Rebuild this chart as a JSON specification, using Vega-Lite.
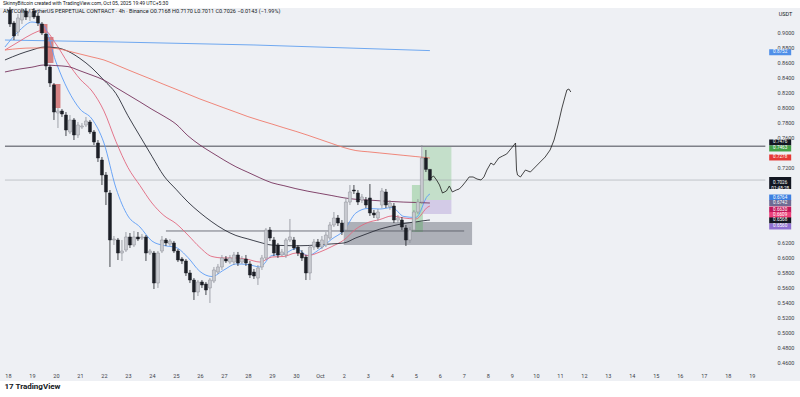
{
  "$schema": "https://vega.github.io/schema/vega-lite/v6.json",
  "width": 800,
  "height": 373,
  "autosize": {"type": "none"},
  "padding": {"left": 0, "right": 0, "top": 8, "bottom": 16},
  "background": "#ffffff",
  "config": {
    "font": "Roboto",
    "view": {"fill": "#eef0f4", "stroke": null},
    "axis": {"grid": false, "ticks": false, "domain": false, "labelColor": "#3b3e47", "labelFontSize": 5.5, "labelFont": "Roboto", "titleFont": "Roboto"}
  },
  "title": {
    "text": "SkinnyBitcoin created with TradingView.com, Oct 05, 2025 19:49 UTC+5:30",
    "subtitle": "ANTCOIN / TetherUS PERPETUAL CONTRACT · 4h · Binance   O0.7168  H0.7170  L0.7011  C0.7026  −0.0143 (−1.99%)",
    "anchor": "start", "frame": "group", "orient": "top", "offset": -8, "dx": 3,
    "fontSize": 5, "fontWeight": "normal", "color": "#131722",
    "subtitleFontSize": 5.5, "subtitleColor": "#131722", "subtitlePadding": 3
  },
  "encoding": {
    "x": {
      "field": "t", "type": "temporal",
      "scale": {"type": "utc", "nice": false, "domain": [
        {"year": 2025, "month": 9, "date": 17, "hours": 21, "minutes": 2, "utc": true},
        {"year": 2025, "month": 10, "date": 20, "hours": 19, "minutes": 9, "utc": true}]},
      "axis": {
        "orient": "bottom", "offset": -11, "labelPadding": 3,
        "tickCount": {"interval": "day", "step": 1},
        "labelExpr": "utcmonth(datum.value) == 9 && utcdate(datum.value) >= 20 ? '' : (utcdate(datum.value) == 1 ? 'Oct' : '' + utcdate(datum.value))",
        "labelOverlap": false, "labelFlush": false, "labelBound": false,
        "title": "17 TradingView", "titleAnchor": "start", "titleAlign": "left", "titleBaseline": "middle",
        "titleX": 4, "titleY": 16, "titleFontSize": 8, "titleFontWeight": "bold", "titleColor": "#131722"
      }
    },
    "y": {
      "field": "p", "type": "quantitative",
      "scale": {"domain": [0.43467, 0.932], "zero": false, "nice": false},
      "axis": {
        "orient": "right", "offset": -30, "labelPadding": 7, "format": ".4f",
        "values": [0.46, 0.48, 0.5, 0.52, 0.54, 0.56, 0.58, 0.6, 0.62, 0.72, 0.76, 0.78, 0.8, 0.82, 0.84, 0.86, 0.88, 0.9],
        "labelOverlap": false, "labelFlush": false,
        "title": "USDT", "titleAngle": 0, "titleX": 15, "titleY": 5, "titleAlign": "center", "titleBaseline": "middle",
        "titleFontSize": 5.5, "titleFontWeight": "normal", "titleColor": "#131722"
      }
    }
  },
  "layer": [
    {
      "data": {"values": [
        {"kind": "zone", "t": "2025-10-01T23:50Z", "t2": "2025-10-07T08:10Z", "p": 0.6467, "p2": 0.6160},
        {"kind": "target", "t": "2025-10-05T07:00Z", "t2": "2025-10-06T11:30Z", "p": 0.7476, "p2": 0.6760},
        {"kind": "stop", "t": "2025-10-05T07:00Z", "t2": "2025-10-06T11:30Z", "p": 0.6760, "p2": 0.6573},
        {"kind": "red", "t": "2025-09-19T07:30Z", "t2": "2025-09-19T15:30Z", "p": 0.9107, "p2": 0.8987},
        {"kind": "red", "t": "2025-09-19T12:30Z", "t2": "2025-09-19T21:30Z", "p": 0.8933, "p2": 0.8587},
        {"kind": "red", "t": "2025-09-19T20:30Z", "t2": "2025-09-20T04:30Z", "p": 0.8307, "p2": 0.7987},
        {"kind": "green", "t": "2025-10-04T20:00Z", "t2": "2025-10-05T07:00Z", "p": 0.6960, "p2": 0.6333}
      ], "format": {"parse": {"t": "date", "t2": "date"}}},
      "mark": {"type": "rect"},
      "encoding": {
        "x2": {"field": "t2"},
        "y2": {"field": "p2"},
        "fill": {"field": "kind", "type": "nominal", "legend": null,
          "scale": {"domain": ["zone", "target", "stop", "red", "green"],
            "range": ["rgba(120,123,134,0.55)", "rgba(76,175,80,0.26)", "rgba(126,87,194,0.24)", "rgba(200,70,70,0.65)", "rgba(76,175,80,0.32)"]}}
      }
    },
    {
      "data": {"values": [{"t": "2025-09-17T21:00Z", "t2": "2025-10-19T13:30Z", "p": 0.7476}], "format": {"parse": {"t": "date", "t2": "date"}}},
      "mark": {"type": "rule", "color": "#7e8088", "strokeWidth": 1.6},
      "encoding": {"x2": {"field": "t2"}}
    },
    {
      "data": {"values": [{"t": "2025-09-17T21:00Z", "t2": "2025-10-19T13:30Z", "p": 0.7026}], "format": {"parse": {"t": "date", "t2": "date"}}},
      "mark": {"type": "rule", "color": "#a3a6ad", "strokeWidth": 0.6},
      "encoding": {"x2": {"field": "t2"}}
    },
    {
      "data": {"values": [{"t": "2025-09-24T14:00Z", "t2": "2025-10-07T00:15Z", "p": 0.6347}], "format": {"parse": {"t": "date", "t2": "date"}}},
      "mark": {"type": "rule", "color": "#50535e", "strokeWidth": 0.8},
      "encoding": {"x2": {"field": "t2"}}
    },
    {
      "data": {"values": [
        {"t": "2025-09-17T21:00Z", "p": 0.8893},
        {"t": "2025-09-22T12:00Z", "p": 0.8867},
        {"t": "2025-09-28T06:00Z", "p": 0.8827},
        {"t": "2025-10-05T14:00Z", "p": 0.8752}
      ], "format": {"parse": {"t": "date"}}},
      "mark": {"type": "line", "color": "#6fa8f0", "strokeWidth": 1},
      "encoding": {}
    },
    {
      "data": {"values": [
        {"t": "2025-09-17T21:00Z", "ema9": 0.8800, "ema21": 0.8760, "ema50": 0.8627, "ema100": 0.8467, "ema200": 0.8760},
        {"t": "2025-09-18T12:00Z", "ema9": 0.9027, "ema21": 0.8880, "ema50": 0.8708, "ema100": 0.8507, "ema200": 0.8780},
        {"t": "2025-09-19T00:00Z", "ema9": 0.9133, "ema21": 0.8973, "ema50": 0.8760, "ema100": 0.8531, "ema200": 0.8787},
        {"t": "2025-09-19T12:00Z", "ema9": 0.9080, "ema21": 0.9027, "ema50": 0.8799, "ema100": 0.8560, "ema200": 0.8787},
        {"t": "2025-09-20T00:00Z", "ema9": 0.8600, "ema21": 0.8840, "ema50": 0.8791, "ema100": 0.8552, "ema200": 0.8780},
        {"t": "2025-09-20T12:00Z", "ema9": 0.8227, "ema21": 0.8587, "ema50": 0.8743, "ema100": 0.8539, "ema200": 0.8747},
        {"t": "2025-09-21T00:00Z", "ema9": 0.7973, "ema21": 0.8373, "ema50": 0.8647, "ema100": 0.8483, "ema200": 0.8707},
        {"t": "2025-09-21T12:00Z", "ema9": 0.7840, "ema21": 0.8213, "ema50": 0.8520, "ema100": 0.8424, "ema200": 0.8667},
        {"t": "2025-09-22T00:00Z", "ema9": 0.7520, "ema21": 0.7947, "ema50": 0.8356, "ema100": 0.8359, "ema200": 0.8627},
        {"t": "2025-09-22T12:00Z", "ema9": 0.6920, "ema21": 0.7540, "ema50": 0.8180, "ema100": 0.8260, "ema200": 0.8563},
        {"t": "2025-09-23T00:00Z", "ema9": 0.6547, "ema21": 0.7193, "ema50": 0.7883, "ema100": 0.8164, "ema200": 0.8496},
        {"t": "2025-09-23T12:00Z", "ema9": 0.6400, "ema21": 0.6953, "ema50": 0.7612, "ema100": 0.8068, "ema200": 0.8431},
        {"t": "2025-09-24T00:00Z", "ema9": 0.6213, "ema21": 0.6720, "ema50": 0.7343, "ema100": 0.7969, "ema200": 0.8367},
        {"t": "2025-09-24T12:00Z", "ema9": 0.6153, "ema21": 0.6553, "ema50": 0.7080, "ema100": 0.7877, "ema200": 0.8301},
        {"t": "2025-09-25T00:00Z", "ema9": 0.6127, "ema21": 0.6447, "ema50": 0.6904, "ema100": 0.7773, "ema200": 0.8237},
        {"t": "2025-09-25T12:00Z", "ema9": 0.5993, "ema21": 0.6293, "ema50": 0.6733, "ema100": 0.7616, "ema200": 0.8172},
        {"t": "2025-09-26T00:00Z", "ema9": 0.5807, "ema21": 0.6127, "ema50": 0.6591, "ema100": 0.7493, "ema200": 0.8107},
        {"t": "2025-09-26T12:00Z", "ema9": 0.5740, "ema21": 0.6007, "ema50": 0.6468, "ema100": 0.7391, "ema200": 0.8048},
        {"t": "2025-09-27T00:00Z", "ema9": 0.5827, "ema21": 0.5987, "ema50": 0.6364, "ema100": 0.7293, "ema200": 0.7989},
        {"t": "2025-09-27T12:00Z", "ema9": 0.5907, "ema21": 0.5987, "ema50": 0.6287, "ema100": 0.7203, "ema200": 0.7931},
        {"t": "2025-09-28T00:00Z", "ema9": 0.5900, "ema21": 0.5967, "ema50": 0.6241, "ema100": 0.7129, "ema200": 0.7872},
        {"t": "2025-09-28T12:00Z", "ema9": 0.5867, "ema21": 0.5933, "ema50": 0.6195, "ema100": 0.7055, "ema200": 0.7821},
        {"t": "2025-09-29T00:00Z", "ema9": 0.6020, "ema21": 0.6000, "ema50": 0.6159, "ema100": 0.6989, "ema200": 0.7773},
        {"t": "2025-09-29T12:00Z", "ema9": 0.6040, "ema21": 0.6007, "ema50": 0.6153, "ema100": 0.6951, "ema200": 0.7723},
        {"t": "2025-09-30T00:00Z", "ema9": 0.6113, "ema21": 0.6053, "ema50": 0.6149, "ema100": 0.6911, "ema200": 0.7675},
        {"t": "2025-09-30T12:00Z", "ema9": 0.6020, "ema21": 0.6020, "ema50": 0.6153, "ema100": 0.6877, "ema200": 0.7623},
        {"t": "2025-10-01T00:00Z", "ema9": 0.6107, "ema21": 0.6067, "ema50": 0.6163, "ema100": 0.6848, "ema200": 0.7568},
        {"t": "2025-10-01T12:00Z", "ema9": 0.6240, "ema21": 0.6140, "ema50": 0.6175, "ema100": 0.6819, "ema200": 0.7513},
        {"t": "2025-10-02T00:00Z", "ema9": 0.6353, "ema21": 0.6227, "ema50": 0.6187, "ema100": 0.6789, "ema200": 0.7459},
        {"t": "2025-10-02T12:00Z", "ema9": 0.6587, "ema21": 0.6373, "ema50": 0.6255, "ema100": 0.6769, "ema200": 0.7419},
        {"t": "2025-10-03T00:00Z", "ema9": 0.6647, "ema21": 0.6460, "ema50": 0.6315, "ema100": 0.6760, "ema200": 0.7403},
        {"t": "2025-10-03T12:00Z", "ema9": 0.6640, "ema21": 0.6500, "ema50": 0.6372, "ema100": 0.6749, "ema200": 0.7387},
        {"t": "2025-10-04T00:00Z", "ema9": 0.6660, "ema21": 0.6547, "ema50": 0.6413, "ema100": 0.6740, "ema200": 0.7371},
        {"t": "2025-10-04T12:00Z", "ema9": 0.6540, "ema21": 0.6520, "ema50": 0.6447, "ema100": 0.6732, "ema200": 0.7355},
        {"t": "2025-10-05T00:00Z", "ema9": 0.6527, "ema21": 0.6507, "ema50": 0.6468, "ema100": 0.6727, "ema200": 0.7339},
        {"t": "2025-10-05T12:00Z", "ema9": 0.6820, "ema21": 0.6667, "ema50": 0.6491, "ema100": 0.6721, "ema200": 0.7323},
        {"t": "2025-10-05T14:00Z", "ema9": 0.6840, "ema21": 0.6680, "ema50": 0.6493, "ema100": 0.6720, "ema200": 0.7320}
      ], "format": {"parse": {"t": "date"}}},
      "transform": [{"fold": ["ema9", "ema21", "ema50", "ema100", "ema200"], "as": ["series", "p"]}],
      "mark": {"type": "line", "interpolate": "monotone"},
      "encoding": {
        "stroke": {"field": "series", "type": "nominal", "legend": null,
          "scale": {"domain": ["ema9", "ema21", "ema50", "ema100", "ema200"], "range": ["#5b9cf6", "#e2687f", "#2a2e39", "#76325c", "#ef7b6c"]}},
        "strokeWidth": {"field": "series", "type": "nominal", "legend": null,
          "scale": {"domain": ["ema9", "ema21", "ema50", "ema100", "ema200"], "range": [0.9, 0.9, 1, 1.5, 1]}}
      }
    },
    {
      "data": {"values": [
        {"t": "2025-09-18T00:00Z", "o": 0.9293, "h": 0.9333, "l": 0.9067, "c": 0.9107},
        {"t": "2025-09-18T04:00Z", "o": 0.9120, "h": 0.9147, "l": 0.8893, "c": 0.8947},
        {"t": "2025-09-18T08:00Z", "o": 0.9000, "h": 0.9240, "l": 0.8947, "c": 0.9187},
        {"t": "2025-09-18T12:00Z", "o": 0.9160, "h": 0.9320, "l": 0.9107, "c": 0.9280},
        {"t": "2025-09-18T16:00Z", "o": 0.9280, "h": 0.9320, "l": 0.9160, "c": 0.9200},
        {"t": "2025-09-18T20:00Z", "o": 0.9200, "h": 0.9307, "l": 0.9147, "c": 0.9267},
        {"t": "2025-09-19T00:00Z", "o": 0.9280, "h": 0.9320, "l": 0.9173, "c": 0.9200},
        {"t": "2025-09-19T04:00Z", "o": 0.9213, "h": 0.9253, "l": 0.9080, "c": 0.9120},
        {"t": "2025-09-19T08:00Z", "o": 0.9107, "h": 0.9133, "l": 0.8960, "c": 0.8987},
        {"t": "2025-09-19T12:00Z", "o": 0.8973, "h": 0.8987, "l": 0.8493, "c": 0.8547},
        {"t": "2025-09-19T16:00Z", "o": 0.8533, "h": 0.8560, "l": 0.8267, "c": 0.8320},
        {"t": "2025-09-19T20:00Z", "o": 0.8293, "h": 0.8320, "l": 0.7827, "c": 0.7933},
        {"t": "2025-09-20T00:00Z", "o": 0.7920, "h": 0.7987, "l": 0.7720, "c": 0.7947},
        {"t": "2025-09-20T04:00Z", "o": 0.7947, "h": 0.7973, "l": 0.7867, "c": 0.7907},
        {"t": "2025-09-20T08:00Z", "o": 0.7893, "h": 0.7933, "l": 0.7613, "c": 0.7693},
        {"t": "2025-09-20T12:00Z", "o": 0.7667, "h": 0.7893, "l": 0.7640, "c": 0.7827},
        {"t": "2025-09-20T16:00Z", "o": 0.7827, "h": 0.7853, "l": 0.7560, "c": 0.7627},
        {"t": "2025-09-20T20:00Z", "o": 0.7627, "h": 0.7800, "l": 0.7587, "c": 0.7760},
        {"t": "2025-09-21T00:00Z", "o": 0.7733, "h": 0.7787, "l": 0.7707, "c": 0.7747},
        {"t": "2025-09-21T04:00Z", "o": 0.7760, "h": 0.7867, "l": 0.7733, "c": 0.7813},
        {"t": "2025-09-21T08:00Z", "o": 0.7800, "h": 0.7827, "l": 0.7640, "c": 0.7667},
        {"t": "2025-09-21T12:00Z", "o": 0.7667, "h": 0.7693, "l": 0.7493, "c": 0.7533},
        {"t": "2025-09-21T16:00Z", "o": 0.7520, "h": 0.7560, "l": 0.7267, "c": 0.7320},
        {"t": "2025-09-21T20:00Z", "o": 0.7293, "h": 0.7333, "l": 0.6960, "c": 0.7093},
        {"t": "2025-09-22T00:00Z", "o": 0.7093, "h": 0.7133, "l": 0.6693, "c": 0.6867},
        {"t": "2025-09-22T04:00Z", "o": 0.6853, "h": 0.6893, "l": 0.5867, "c": 0.6227},
        {"t": "2025-09-22T08:00Z", "o": 0.6227, "h": 0.6280, "l": 0.6160, "c": 0.6240},
        {"t": "2025-09-22T12:00Z", "o": 0.6227, "h": 0.6253, "l": 0.5960, "c": 0.6053},
        {"t": "2025-09-22T16:00Z", "o": 0.6053, "h": 0.6227, "l": 0.5947, "c": 0.6080},
        {"t": "2025-09-22T20:00Z", "o": 0.6093, "h": 0.6333, "l": 0.6067, "c": 0.6267},
        {"t": "2025-09-23T00:00Z", "o": 0.6267, "h": 0.6320, "l": 0.6120, "c": 0.6160},
        {"t": "2025-09-23T04:00Z", "o": 0.6160, "h": 0.6347, "l": 0.6133, "c": 0.6267},
        {"t": "2025-09-23T08:00Z", "o": 0.6267, "h": 0.6333, "l": 0.6213, "c": 0.6240},
        {"t": "2025-09-23T12:00Z", "o": 0.6253, "h": 0.6307, "l": 0.6227, "c": 0.6267},
        {"t": "2025-09-23T16:00Z", "o": 0.6267, "h": 0.6293, "l": 0.5947, "c": 0.6053},
        {"t": "2025-09-23T20:00Z", "o": 0.6053, "h": 0.6107, "l": 0.6027, "c": 0.6080},
        {"t": "2025-09-24T00:00Z", "o": 0.6053, "h": 0.6080, "l": 0.5573, "c": 0.5653},
        {"t": "2025-09-24T04:00Z", "o": 0.5653, "h": 0.6080, "l": 0.5587, "c": 0.6053},
        {"t": "2025-09-24T08:00Z", "o": 0.6080, "h": 0.6280, "l": 0.6053, "c": 0.6227},
        {"t": "2025-09-24T12:00Z", "o": 0.6227, "h": 0.6253, "l": 0.6147, "c": 0.6187},
        {"t": "2025-09-24T16:00Z", "o": 0.6173, "h": 0.6240, "l": 0.6147, "c": 0.6213},
        {"t": "2025-09-24T20:00Z", "o": 0.6187, "h": 0.6213, "l": 0.6053, "c": 0.6080},
        {"t": "2025-09-25T00:00Z", "o": 0.6080, "h": 0.6107, "l": 0.5933, "c": 0.5960},
        {"t": "2025-09-25T04:00Z", "o": 0.5973, "h": 0.6000, "l": 0.5907, "c": 0.5947},
        {"t": "2025-09-25T08:00Z", "o": 0.5947, "h": 0.5973, "l": 0.5747, "c": 0.5787},
        {"t": "2025-09-25T12:00Z", "o": 0.5787, "h": 0.5827, "l": 0.5653, "c": 0.5693},
        {"t": "2025-09-25T16:00Z", "o": 0.5693, "h": 0.5720, "l": 0.5427, "c": 0.5533},
        {"t": "2025-09-25T20:00Z", "o": 0.5533, "h": 0.5693, "l": 0.5480, "c": 0.5667},
        {"t": "2025-09-26T00:00Z", "o": 0.5667, "h": 0.5693, "l": 0.5587, "c": 0.5627},
        {"t": "2025-09-26T04:00Z", "o": 0.5640, "h": 0.5667, "l": 0.5493, "c": 0.5560},
        {"t": "2025-09-26T08:00Z", "o": 0.5587, "h": 0.5720, "l": 0.5387, "c": 0.5693},
        {"t": "2025-09-26T12:00Z", "o": 0.5680, "h": 0.5867, "l": 0.5653, "c": 0.5827},
        {"t": "2025-09-26T16:00Z", "o": 0.5800, "h": 0.5907, "l": 0.5773, "c": 0.5867},
        {"t": "2025-09-26T20:00Z", "o": 0.5867, "h": 0.6027, "l": 0.5827, "c": 0.5987},
        {"t": "2025-09-27T00:00Z", "o": 0.5973, "h": 0.6013, "l": 0.5920, "c": 0.5947},
        {"t": "2025-09-27T04:00Z", "o": 0.5933, "h": 0.6027, "l": 0.5907, "c": 0.5987},
        {"t": "2025-09-27T08:00Z", "o": 0.5933, "h": 0.6067, "l": 0.5893, "c": 0.6027},
        {"t": "2025-09-27T12:00Z", "o": 0.6027, "h": 0.6067, "l": 0.5880, "c": 0.5920},
        {"t": "2025-09-27T16:00Z", "o": 0.5933, "h": 0.6013, "l": 0.5907, "c": 0.5973},
        {"t": "2025-09-27T20:00Z", "o": 0.5973, "h": 0.6027, "l": 0.5880, "c": 0.5920},
        {"t": "2025-09-28T00:00Z", "o": 0.5907, "h": 0.5947, "l": 0.5720, "c": 0.5760},
        {"t": "2025-09-28T04:00Z", "o": 0.5800, "h": 0.5840, "l": 0.5707, "c": 0.5747},
        {"t": "2025-09-28T08:00Z", "o": 0.5720, "h": 0.5893, "l": 0.5627, "c": 0.5853},
        {"t": "2025-09-28T12:00Z", "o": 0.5867, "h": 0.6027, "l": 0.5827, "c": 0.5987},
        {"t": "2025-09-28T16:00Z", "o": 0.5987, "h": 0.6387, "l": 0.5960, "c": 0.6360},
        {"t": "2025-09-28T20:00Z", "o": 0.6360, "h": 0.6400, "l": 0.6213, "c": 0.6253},
        {"t": "2025-09-29T00:00Z", "o": 0.6227, "h": 0.6267, "l": 0.6013, "c": 0.6053},
        {"t": "2025-09-29T04:00Z", "o": 0.6160, "h": 0.6187, "l": 0.5987, "c": 0.6027},
        {"t": "2025-09-29T08:00Z", "o": 0.6027, "h": 0.6107, "l": 0.6013, "c": 0.6067},
        {"t": "2025-09-29T12:00Z", "o": 0.6027, "h": 0.6253, "l": 0.5987, "c": 0.6227},
        {"t": "2025-09-29T16:00Z", "o": 0.6227, "h": 0.6507, "l": 0.6200, "c": 0.6267},
        {"t": "2025-09-29T20:00Z", "o": 0.6227, "h": 0.6267, "l": 0.6093, "c": 0.6120},
        {"t": "2025-09-30T00:00Z", "o": 0.6133, "h": 0.6160, "l": 0.6013, "c": 0.6053},
        {"t": "2025-09-30T04:00Z", "o": 0.6053, "h": 0.6093, "l": 0.5947, "c": 0.5987},
        {"t": "2025-09-30T08:00Z", "o": 0.6000, "h": 0.6027, "l": 0.5693, "c": 0.5787},
        {"t": "2025-09-30T12:00Z", "o": 0.5787, "h": 0.6160, "l": 0.5693, "c": 0.6133},
        {"t": "2025-09-30T16:00Z", "o": 0.6133, "h": 0.6240, "l": 0.6093, "c": 0.6200},
        {"t": "2025-09-30T20:00Z", "o": 0.6200, "h": 0.6240, "l": 0.6107, "c": 0.6133},
        {"t": "2025-10-01T00:00Z", "o": 0.6133, "h": 0.6280, "l": 0.6107, "c": 0.6227},
        {"t": "2025-10-01T04:00Z", "o": 0.6160, "h": 0.6333, "l": 0.6133, "c": 0.6293},
        {"t": "2025-10-01T08:00Z", "o": 0.6253, "h": 0.6467, "l": 0.6227, "c": 0.6427},
        {"t": "2025-10-01T12:00Z", "o": 0.6427, "h": 0.6600, "l": 0.6400, "c": 0.6520},
        {"t": "2025-10-01T16:00Z", "o": 0.6520, "h": 0.6560, "l": 0.6413, "c": 0.6453},
        {"t": "2025-10-01T20:00Z", "o": 0.6453, "h": 0.6493, "l": 0.6293, "c": 0.6333},
        {"t": "2025-10-02T00:00Z", "o": 0.6360, "h": 0.6787, "l": 0.6333, "c": 0.6733},
        {"t": "2025-10-02T04:00Z", "o": 0.6733, "h": 0.6960, "l": 0.6693, "c": 0.6867},
        {"t": "2025-10-02T08:00Z", "o": 0.6893, "h": 0.6960, "l": 0.6840, "c": 0.6880},
        {"t": "2025-10-02T12:00Z", "o": 0.6853, "h": 0.6893, "l": 0.6693, "c": 0.6733},
        {"t": "2025-10-02T16:00Z", "o": 0.6760, "h": 0.6840, "l": 0.6720, "c": 0.6800},
        {"t": "2025-10-02T20:00Z", "o": 0.6760, "h": 0.6800, "l": 0.6653, "c": 0.6693},
        {"t": "2025-10-03T00:00Z", "o": 0.6787, "h": 0.6973, "l": 0.6547, "c": 0.6587},
        {"t": "2025-10-03T04:00Z", "o": 0.6587, "h": 0.6627, "l": 0.6520, "c": 0.6560},
        {"t": "2025-10-03T08:00Z", "o": 0.6520, "h": 0.6640, "l": 0.6480, "c": 0.6600},
        {"t": "2025-10-03T12:00Z", "o": 0.6693, "h": 0.6920, "l": 0.6653, "c": 0.6880},
        {"t": "2025-10-03T16:00Z", "o": 0.6867, "h": 0.6907, "l": 0.6653, "c": 0.6693},
        {"t": "2025-10-03T20:00Z", "o": 0.6667, "h": 0.6760, "l": 0.6627, "c": 0.6720},
        {"t": "2025-10-04T00:00Z", "o": 0.6680, "h": 0.6720, "l": 0.6453, "c": 0.6493},
        {"t": "2025-10-04T04:00Z", "o": 0.6493, "h": 0.6560, "l": 0.6453, "c": 0.6520},
        {"t": "2025-10-04T08:00Z", "o": 0.6493, "h": 0.6533, "l": 0.6360, "c": 0.6400},
        {"t": "2025-10-04T12:00Z", "o": 0.6387, "h": 0.6427, "l": 0.6147, "c": 0.6227},
        {"t": "2025-10-04T16:00Z", "o": 0.6227, "h": 0.6400, "l": 0.6187, "c": 0.6360},
        {"t": "2025-10-04T20:00Z", "o": 0.6360, "h": 0.6627, "l": 0.6333, "c": 0.6600},
        {"t": "2025-10-05T00:00Z", "o": 0.6600, "h": 0.6773, "l": 0.6573, "c": 0.6733},
        {"t": "2025-10-05T04:00Z", "o": 0.6733, "h": 0.7493, "l": 0.6707, "c": 0.7320},
        {"t": "2025-10-05T08:00Z", "o": 0.7320, "h": 0.7427, "l": 0.7133, "c": 0.7168},
        {"t": "2025-10-05T12:00Z", "o": 0.7168, "h": 0.7170, "l": 0.7011, "c": 0.7026}
      ], "format": {"parse": {"t": "date"}}},
      "layer": [
        {
          "mark": {"type": "rule", "xOffset": 2, "strokeWidth": 0.8},
          "encoding": {
            "y": {"field": "l", "type": "quantitative"},
            "y2": {"field": "h"},
            "color": {"condition": {"test": "datum.c >= datum.o", "value": "#8c8f97"}, "value": "#1c1f26"}
          }
        },
        {
          "mark": {"type": "bar", "size": 3, "xOffset": 2, "strokeWidth": 0.5},
          "encoding": {
            "y": {"field": "o", "type": "quantitative"},
            "y2": {"field": "c"},
            "fill": {"condition": {"test": "datum.c >= datum.o", "value": "#c8cad0"}, "value": "#1c1f26"},
            "stroke": {"condition": {"test": "datum.c >= datum.o", "value": "#8c8f97"}, "value": "#1c1f26"}
          }
        }
      ]
    },
    {
      "data": {"values": [
        {"t": "2025-10-05T14:43Z", "p": 0.7053},
        {"t": "2025-10-05T17:41Z", "p": 0.7080},
        {"t": "2025-10-05T20:39Z", "p": 0.7027},
        {"t": "2025-10-05T23:37Z", "p": 0.6960},
        {"t": "2025-10-06T02:34Z", "p": 0.6853},
        {"t": "2025-10-06T06:31Z", "p": 0.6880},
        {"t": "2025-10-06T09:29Z", "p": 0.6947},
        {"t": "2025-10-06T12:26Z", "p": 0.6867},
        {"t": "2025-10-06T16:23Z", "p": 0.6893},
        {"t": "2025-10-06T19:21Z", "p": 0.6907},
        {"t": "2025-10-06T22:19Z", "p": 0.6947},
        {"t": "2025-10-07T02:16Z", "p": 0.7013},
        {"t": "2025-10-07T05:14Z", "p": 0.7067},
        {"t": "2025-10-07T09:11Z", "p": 0.7067},
        {"t": "2025-10-07T13:08Z", "p": 0.7040},
        {"t": "2025-10-07T17:05Z", "p": 0.7027},
        {"t": "2025-10-07T20:03Z", "p": 0.7067},
        {"t": "2025-10-07T23:01Z", "p": 0.7160},
        {"t": "2025-10-08T02:58Z", "p": 0.7253},
        {"t": "2025-10-08T05:55Z", "p": 0.7227},
        {"t": "2025-10-08T10:52Z", "p": 0.7320},
        {"t": "2025-10-08T14:49Z", "p": 0.7347},
        {"t": "2025-10-08T18:46Z", "p": 0.7373},
        {"t": "2025-10-08T23:42Z", "p": 0.7453},
        {"t": "2025-10-09T03:39Z", "p": 0.7520},
        {"t": "2025-10-09T04:38Z", "p": 0.7160},
        {"t": "2025-10-09T05:38Z", "p": 0.7093},
        {"t": "2025-10-09T08:35Z", "p": 0.7067},
        {"t": "2025-10-09T13:32Z", "p": 0.7160},
        {"t": "2025-10-09T18:28Z", "p": 0.7133},
        {"t": "2025-10-09T23:25Z", "p": 0.7200},
        {"t": "2025-10-10T04:21Z", "p": 0.7267},
        {"t": "2025-10-10T09:17Z", "p": 0.7333},
        {"t": "2025-10-10T14:13Z", "p": 0.7427},
        {"t": "2025-10-10T18:10Z", "p": 0.7560},
        {"t": "2025-10-10T22:07Z", "p": 0.7760},
        {"t": "2025-10-11T02:04Z", "p": 0.7987},
        {"t": "2025-10-11T05:02Z", "p": 0.8133},
        {"t": "2025-10-11T07:01Z", "p": 0.8227},
        {"t": "2025-10-11T08:59Z", "p": 0.8240},
        {"t": "2025-10-11T10:58Z", "p": 0.8200}
      ], "format": {"parse": {"t": "date"}}},
      "mark": {"type": "line", "color": "#1a1a1a", "strokeWidth": 0.8},
      "encoding": {}
    },
    {
      "data": {"values": [
        {"tag": "MA", "t": "2025-10-20T04:20Z", "p": 0.8730, "label": "0.8752"},
        {"tag": "Level", "t": "2025-10-20T04:20Z", "p": 0.7527, "label": "0.7476"},
        {"tag": "Target", "t": "2025-10-20T04:20Z", "p": 0.7447, "label": "0.7463"},
        {"tag": "EMA 200", "t": "2025-10-20T04:20Z", "p": 0.7327, "label": "0.7278"},
        {"tag": "EMA 9", "t": "2025-10-20T04:20Z", "p": 0.6793, "label": "0.6764"},
        {"tag": "EMA 100", "t": "2025-10-20T04:20Z", "p": 0.6720, "label": "0.6742"},
        {"tag": "EMA 21", "t": "2025-10-20T04:20Z", "p": 0.6633, "label": "0.6630"},
        {"tag": "EMA 21b", "t": "2025-10-20T04:20Z", "p": 0.6560, "label": "0.6609"},
        {"tag": "EMA 50", "t": "2025-10-20T04:20Z", "p": 0.6487, "label": "0.6568"},
        {"tag": "Stop", "t": "2025-10-20T04:20Z", "p": 0.6407, "label": "0.6560"}
      ], "format": {"parse": {"t": "date"}}},
      "layer": [
        {
          "mark": {"type": "tick", "orient": "horizontal", "size": 22, "thickness": 6, "opacity": 1},
          "encoding": {
            "color": {"field": "tag", "type": "nominal", "legend": null,
              "scale": {"domain": ["MA", "Level", "Target", "EMA 200", "EMA 9", "EMA 100", "EMA 21", "EMA 21b", "EMA 50", "Stop"],
                "range": ["#4f8fe8", "#131722", "#43a047", "#e53935", "#3d7fe0", "#6f6b93", "#c2185b", "#ec407a", "#131722", "#8e6fd0"]}}
          }
        },
        {
          "mark": {"type": "text", "color": "#ffffff", "fontSize": 4.6, "align": "center", "baseline": "middle"},
          "encoding": {"text": {"field": "label", "type": "nominal"}}
        }
      ]
    },
    {
      "data": {"values": [{"t": "2025-10-20T04:20Z", "p": 0.6987, "label": "0.7026\n01:48:28"}], "format": {"parse": {"t": "date"}}},
      "layer": [
        {"mark": {"type": "tick", "orient": "horizontal", "size": 22, "thickness": 12, "color": "#131722", "opacity": 1}},
        {
          "mark": {"type": "text", "color": "#ffffff", "fontSize": 4.6, "align": "center", "baseline": "middle", "lineBreak": "\n", "lineHeight": 6},
          "encoding": {"text": {"field": "label", "type": "nominal"}}
        }
      ]
    }
  ]
}
